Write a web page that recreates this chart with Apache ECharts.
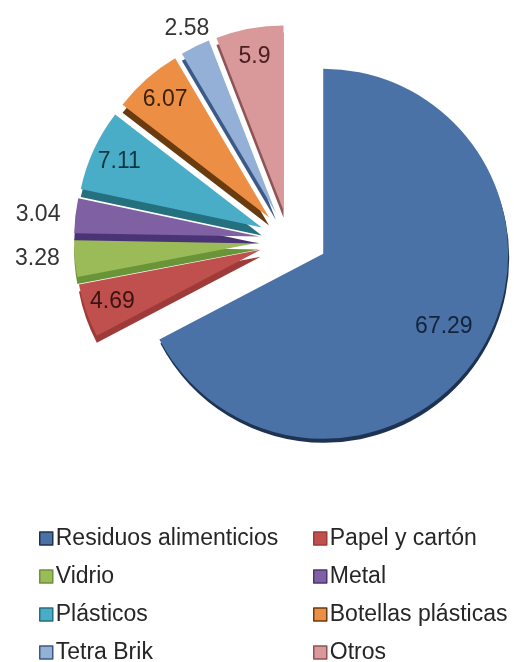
<!DOCTYPE html>
<html>
<head>
<meta charset="utf-8">
<script src="https://cdn.jsdelivr.net/npm/echarts@6/dist/echarts.min.js"></script>
<style>
html,body{margin:0;padding:0;background:#fff;}
#chart{width:514px;height:662px;}
</style>
</head>
<body>
<div id="chart"></div>
<script>
// ---- data ----
const categories = ['Residuos alimenticios', 'Papel y cartón', 'Vidrio', 'Metal', 'Plásticos', 'Botellas plásticas', 'Tetra Brik', 'Otros'];
const values = [67.29, 4.69, 3.28, 3.04, 7.11, 6.07, 2.58, 5.9];

// ---- styles ----
const colors = ['#4a72a6', '#c0504d', '#9bbb59', '#7f60a2', '#4aadc7', '#ec8f45', '#94b0d6', '#d9989a'];
const depthColors = ['#1e3352', '#9e3b38', '#6a9438', '#4b3476', '#25707f', '#6b3b10', '#3c5a88', '#8e5355'];
const depthY = [4, 7, 7, 7, 8, 8, 7, 7];
const labelColors = ['#14233a', '#3d1212', '#333333', '#333333', '#11363f', '#3a1f08', '#333333', '#4a2022'];
const outsideIdx = [2, 3, 6];
const FONT = 'Liberation Sans, Arial, sans-serif';
const CENTER_SMALL = [289, 240];
const CENTER_BLUE = [289, 233];
const R = 185;
const T = 'rgba(0,0,0,0)';

function isBlue(i) { return i === 0; }

function shapeSeries(blue, offset) {
  return {
    type: 'pie',
    center: blue ? CENTER_BLUE : CENTER_SMALL,
    radius: [0, R],
    startAngle: 90,
    clockwise: true,
    selectedMode: 'multiple',
    selectedOffset: offset,
    avoidLabelOverlap: false,
    silent: true,
    animation: false,
    label: { show: false },
    labelLine: { show: false },
    emphasis: { disabled: true },
    data: categories.map((name, i) => {
      const vis = isBlue(i) === blue;
      return {
        name: name,
        value: values[i],
        selected: vis,
        itemStyle: vis ? {
          color: colors[i],
          borderWidth: 0,
          shadowBlur: 0,
          shadowOffsetX: blue ? 1 : 0,
          shadowOffsetY: depthY[i],
          shadowColor: depthColors[i]
        } : { color: T, borderWidth: 0, shadowColor: T },
        select: { itemStyle: vis ? { color: colors[i], borderWidth: 0 } : { color: T, borderWidth: 0 } }
      };
    })
  };
}

function labelSeries(blue, offset, innerR) {
  return {
    type: 'pie',
    center: blue ? CENTER_BLUE : CENTER_SMALL,
    radius: [innerR, R],
    startAngle: 90,
    clockwise: true,
    selectedMode: 'multiple',
    selectedOffset: offset,
    avoidLabelOverlap: false,
    silent: true,
    animation: false,
    emphasis: { disabled: true },
    labelLine: { show: false, length: 10, length2: 0 },
    label: {
      show: true,
      position: 'inside',
      formatter: '{c}',
      fontFamily: FONT,
      fontSize: 23,
      distanceToLabelLine: 5
    },
    data: categories.map((name, i) => {
      const vis = isBlue(i) === blue;
      const out = outsideIdx.indexOf(i) >= 0;
      const item = {
        name: name,
        value: values[i],
        selected: true,
        itemStyle: { color: T, borderWidth: 0 },
        select: { itemStyle: { color: T, borderWidth: 0 } },
        label: { show: vis, position: out ? 'outside' : 'inside', color: labelColors[i] }
      };
      if (i === 6) item.labelLine = { show: false, length: 20, length2: -28 };
      return item;
    })
  };
}

function legendData(idxs) {
  return idxs.map(i => ({
    name: categories[i],
    itemStyle: { color: colors[i], opacity: 1, borderColor: depthColors[i], borderWidth: 1.5 }
  }));
}

const legendCommon = {
  orient: 'vertical',
  icon: 'rect',
  itemWidth: 13,
  itemHeight: 13,
  itemGap: 15,
  height: 160,
  selectedMode: false,
  textStyle: { fontFamily: FONT, fontSize: 23, color: '#262626', padding: [0, 0, 0, -2] }
};

const chart = echarts.init(document.getElementById('chart'), null, { renderer: 'canvas' });
chart.setOption({
  backgroundColor: '#ffffff',
  animation: false,
  legend: [
    Object.assign({}, legendCommon, { left: 34, top: 522, data: legendData([0, 2, 4, 6]) }),
    Object.assign({}, legendCommon, { left: 308, top: 522, data: legendData([1, 3, 5, 7]) })
  ],
  series: [
    shapeSeries(false, 30),
    shapeSeries(true, 40),
    labelSeries(false, 30, 123),
    labelSeries(true, 40, 91)
  ]
});
</script>
</body>
</html>
